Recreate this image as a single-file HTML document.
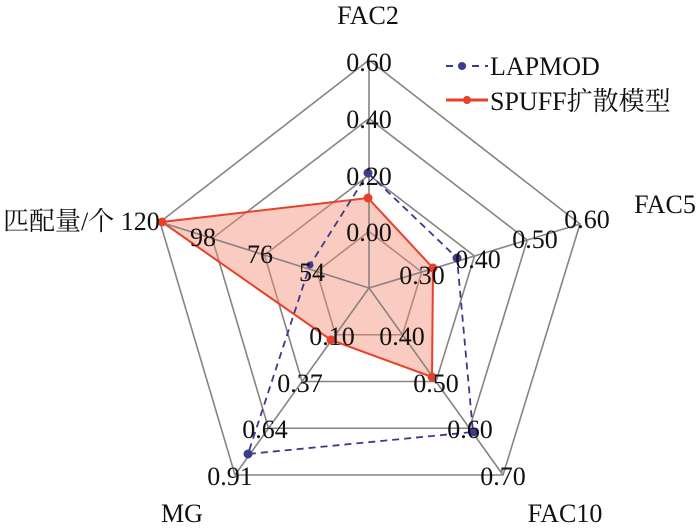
<!DOCTYPE html>
<html><head><meta charset="utf-8"><style>
html,body{margin:0;padding:0;background:#fff;}
svg{display:block;}
text{font-family:"Liberation Serif","Noto Serif CJK SC",serif;font-size:26px;fill:#111;}
</style></head><body>
<svg width="700" height="531" viewBox="0 0 700 531" xmlns="http://www.w3.org/2000/svg">
<g fill="none" stroke="#8a8282" stroke-width="1.6">
<polygon points="369,231.5 421.75,272 402.5,334.75 335.5,334.75 316.75,271.5"/>
<polygon points="369,175 474.5,256 436,381.5 302,381.5 264.5,255"/>
<polygon points="369,118.5 527.25,240 469.5,428.25 268.5,428.25 212.25,238.5"/>
<polygon points="369,60 580,224 503,475 235,475 160,222"/>
</g>
<polygon points="368,198 433,268 432,377 331,340 162,222" fill="#f58c73" fill-opacity="0.45" stroke="#e8402a" stroke-width="2"/>
<g stroke="#8a8282" stroke-width="1.6">
<line x1="369" y1="288" x2="369" y2="60"/><line x1="369" y1="288" x2="580" y2="224"/>
<line x1="369" y1="288" x2="503" y2="475"/><line x1="369" y1="288" x2="235" y2="475"/>
<line x1="369" y1="288" x2="160" y2="222"/>
</g>
<polygon points="368,173 457,258 473,432 248,454 310,265" fill="none" stroke="#3a3a8c" stroke-width="1.8" stroke-dasharray="7,5"/>
<g fill="#e8402a"><circle cx="368" cy="198" r="4.5"/><circle cx="433" cy="268" r="4.5"/><circle cx="432" cy="377" r="4.5"/><circle cx="331" cy="340" r="4.5"/><circle cx="162" cy="222" r="4.5"/></g>
<g fill="#3c3c8e"><circle cx="368" cy="173" r="4.5"/><circle cx="457" cy="258" r="4.5"/><circle cx="473" cy="432" r="4.5"/><circle cx="248" cy="454" r="4.5"/><circle cx="310" cy="265" r="3.5"/></g>
<g text-anchor="middle">
<text x="369" y="71">0.60</text><text x="369" y="128">0.40</text><text x="369" y="185">0.20</text><text x="369" y="241">0.00</text>
<text x="422" y="284">0.30</text><text x="478" y="268">0.40</text><text x="535" y="248">0.50</text><text x="587" y="228">0.60</text>
<text x="402" y="345">0.40</text><text x="436" y="392">0.50</text><text x="470" y="438">0.60</text><text x="503" y="485">0.70</text>
<text x="332" y="345">0.10</text><text x="300" y="392">0.37</text><text x="265" y="438">0.64</text><text x="230" y="485">0.91</text>
<text x="203" y="246">98</text><text x="260" y="263">76</text><text x="312" y="281">54</text>
<text x="368" y="24">FAC2</text><text x="665" y="213">FAC5</text><text x="565" y="522">FAC10</text><text x="182" y="522">MG</text>
</g>
<text x="3" y="230">匹配量/个 120</text>
<line x1="446" y1="66" x2="488" y2="66" stroke="#3a3a8c" stroke-width="2" stroke-dasharray="7,6"/>
<circle cx="462" cy="66" r="4" fill="#3c3c8e"/>
<text x="490" y="75">LAPMOD</text>
<line x1="446" y1="100" x2="488" y2="100" stroke="#e8402a" stroke-width="3"/>
<circle cx="467" cy="100" r="4" fill="#e8402a"/>
<text x="490" y="110">SPUFF扩散模型</text>
</svg>
</body></html>
